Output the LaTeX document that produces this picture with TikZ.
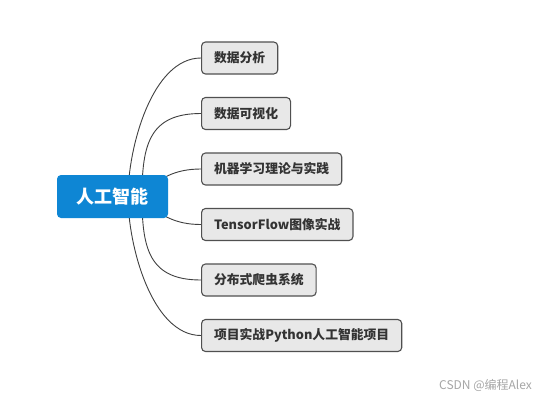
\documentclass[tikz,border=0pt]{standalone}
\usepackage{fontspec}
\setmainfont{Noto Sans CJK SC}
\usetikzlibrary{backgrounds}

\begin{document}
\begin{tikzpicture}[
  x=1pt, y=-1pt,
  root topic/.style={
    fill=rootblue, text=white, rounded corners=4pt,
    minimum width=111pt, minimum height=43pt, inner sep=0pt,
    font=\fontsize{18}{22}\selectfont\bfseries
  },
  sub topic/.style={
    draw=boxborder, fill=boxgrey, text=boxtext, line width=1.1pt,
    rounded corners=4pt, anchor=west, minimum height=32pt,
    inner xsep=12.5pt, inner ysep=0pt,
    font=\fontsize{12.8}{15}\selectfont\bfseries
  },
]
%-------------------------------------------------------------
% Custom colors
\definecolor{rootblue}{RGB}{14,134,212}
\definecolor{boxgrey}{RGB}{232,232,232}
\definecolor{boxborder}{RGB}{80,80,80}
\definecolor{boxtext}{RGB}{51,51,51}
\definecolor{branchgrey}{RGB}{64,64,64}

\tikzset{branch/.style={draw=branchgrey, line width=0.9pt}}

\useasboundingbox (0,0) rectangle (544,400);

%-------------------------------------------------------------
% Main topic and sub topics
\node[root topic] (AI) at (112.5,196.5) {人工智能};
%============================================================
\node[sub topic] (T1) at (201,58) {数据分析};
\node[sub topic] (T2) at (201,113.5) {数据可视化};
\node[sub topic] (T3) at (201,169) {机器学习理论与实践};
\node[sub topic] (T4) at (201,224.5) {TensorFlow图像实战};
\node[sub topic] (T5) at (201,280) {分布式爬虫系统};
\node[sub topic] (T6) at (201,335.5) {项目实战Python人工智能项目};
%============================================================
\node[text=black!35, font=\fontsize{12}{14}\selectfont] (mark) at (485.5,385) {CSDN @编程Alex};

%---------------------------------------------------
% Background branch lines
\begin{pgfonlayer}{background}
	\fill[white] (0,0) rectangle (544,400);

	\draw[branch] ([xshift=15.5pt]AI.center) to[out=90, in=180, looseness=0.8] (T1.west);
	\draw[branch] ([xshift=29.5pt]AI.center) to[out=90, in=180, looseness=1.3] (T2.west);
	\draw[branch] ([xshift=27.5pt]AI.center) to[out=45, in=180] (T3.west);

	\draw[branch] ([xshift=27.5pt]AI.center) to[out=-45, in=180] (T4.west);
	\draw[branch] ([xshift=29.5pt]AI.center) to[out=-90, in=180, looseness=1.3] (T5.west);
	\draw[branch] ([xshift=15.5pt]AI.center) to[out=-90, in=180, looseness=0.8] (T6.west);
\end{pgfonlayer}

\end{tikzpicture}
\end{document}
